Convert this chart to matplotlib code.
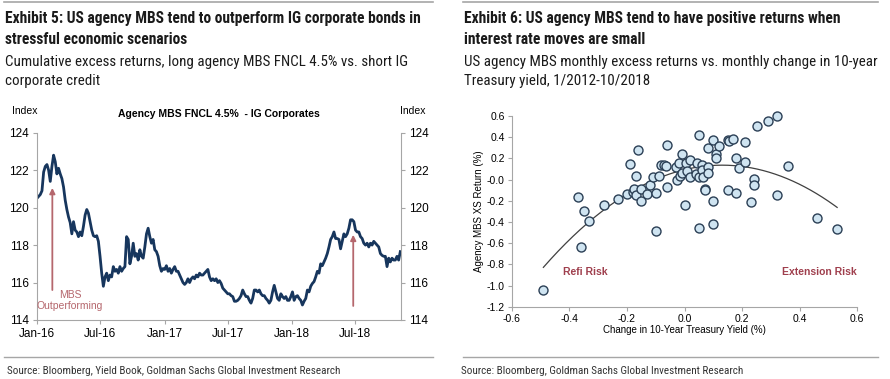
import numpy as np
import pandas as pd
import matplotlib
matplotlib.use('Agg')
import matplotlib.pyplot as plt
import matplotlib.dates as mdates
from matplotlib.lines import Line2D
from matplotlib import font_manager

# Exhibit 5: cumulative excess return index, long MBS FNCL 4.5% vs short IG (about every 5 days)
mbs_index = [
    120.5, 120.6, 120.7, 120.9, 121.9, 122.2, 122.3, 122.0, 121.4, 122.2,
    122.8, 122.45, 121.8, 122.1, 121.8, 121.55, 121.1, 120.4, 119.9, 119.5,
    119.2, 118.6, 119.25, 118.8, 118.7, 118.45, 118.7, 118.5, 119.0, 119.6,
    119.9, 119.7, 119.25, 118.8, 118.5, 118.45, 118.5, 118.2, 117.4, 116.5,
    115.8, 116.3, 116.5, 116.1, 116.4, 116.3, 116.85, 116.6, 116.7, 116.5,
    116.85, 116.6, 116.75, 116.85, 118.45, 118.3, 117.0, 117.4, 118.1, 117.4,
    117.55, 117.2, 117.75, 117.4, 117.3, 117.9, 118.6, 118.9, 118.45, 118.1,
    118.3, 117.75, 117.65, 117.4, 116.9, 116.6, 116.75, 116.7, 116.9, 116.6,
    116.75, 116.5, 116.7, 116.85, 116.6, 116.6, 116.4, 116.2, 116.0, 115.9,
    116.0, 116.2, 116.0, 116.2, 116.3, 116.2, 116.4, 116.3, 116.5, 116.4,
    116.4, 116.5, 116.6, 116.7, 116.3, 116.1, 116.2, 116.1, 116.2, 116.0,
    116.1, 115.95, 115.7, 115.6, 115.5, 115.4, 115.4, 115.3, 115.25, 115.0,
    115.0, 115.05, 115.15, 115.3, 115.6, 115.4, 115.25, 115.25, 115.05, 114.9,
    115.15, 115.6, 115.6, 115.5, 115.6, 115.4, 115.3, 115.3, 115.15, 115.05,
    114.9, 115.05, 115.5, 115.85, 115.5, 115.15, 115.05, 115.4, 115.25, 115.15,
    115.25, 115.05, 115.05, 115.25, 115.5, 115.05, 115.25, 115.3, 115.15, 115.05,
    114.8, 115.0, 115.15, 115.6, 115.5, 115.8, 115.95, 116.05, 116.3, 116.6,
    116.5, 117.0, 116.9, 117.1, 117.3, 117.55, 117.9, 118.3, 118.45, 118.7,
    118.35, 118.35, 118.3, 117.8, 118.2, 118.6, 118.45, 118.6, 118.9, 119.35,
    119.35, 119.25, 118.8, 118.7, 118.7, 118.45, 118.35, 118.1, 118.0, 118.1,
    117.9, 118.1, 118.0, 118.2, 118.1, 118.0, 117.9, 117.55, 117.45, 117.4,
    117.4, 116.85, 117.3, 117.1, 117.3, 117.2, 117.2, 117.4, 117.2, 117.65,
]
start_date = '2016-01-01'
end_date = '2018-11-08'
tick_dates = ['2016-01-01', '2016-07-01', '2017-01-01', '2017-07-01', '2018-01-01', '2018-07-01']
arrow_dates = ['2016-02-14', '2018-06-26']

# Exhibit 6: monthly change in 10y yield (%) vs MBS monthly excess return (%)
yield_change = [
    -0.49, -0.36, -0.37, -0.35, -0.33, -0.28, -0.23, -0.20, -0.19, -0.17,
    -0.16, -0.18, -0.175, -0.17, -0.15, -0.15, -0.13, -0.12, -0.11, -0.10,
    -0.10, -0.09, -0.08, -0.07, -0.065, -0.06, -0.06, -0.03, -0.025, -0.02,
    -0.01, -0.015, -0.01, 0.0, 0.005, 0.01, 0.02, 0.02, 0.04, 0.045,
    0.05, 0.05, 0.05, 0.06, 0.06, 0.065, 0.07, 0.07, 0.08, 0.08,
    0.08, 0.10, 0.10, 0.10, 0.11, 0.11, 0.12, 0.15, 0.15, 0.155,
    0.17, 0.18, 0.18, 0.19, 0.21, 0.21, 0.23, 0.24, 0.24, 0.25,
    0.29, 0.32, 0.32, 0.36, 0.46, 0.53,
]
mbs_xs_return = [
    -1.04, -0.64, -0.16, -0.30, -0.39, -0.24, -0.18, -0.14, 0.15, 0.03,
    0.28, -0.12, -0.09, -0.15, -0.09, -0.20, -0.14, -0.05, 0.02, -0.49,
    -0.13, 0.03, 0.14, 0.14, 0.13, 0.33, -0.07, 0.12, 0.0, 0.16,
    0.24, 0.03, 0.06, -0.24, 0.16, 0.08, 0.18, 0.02, 0.05, 0.16,
    0.42, -0.46, 0.02, 0.14, 0.09, 0.02, -0.09, -0.10, 0.30, 0.12,
    0.06, 0.37, -0.20, -0.42, 0.24, 0.20, 0.32, 0.37, -0.10, 0.36,
    0.38, 0.20, -0.13, 0.11, 0.35, 0.17, -0.21, 0.01, -0.05, 0.51,
    0.55, 0.60, -0.15, 0.13, -0.36, -0.47,
]

# pick a narrow font for the headers if one is installed
names = {f.name for f in font_manager.fontManager.ttflist}
head_font = 'DejaVu Sans'
for cand in ['Liberation Sans Narrow', 'Roboto Condensed', 'Open Sans Condensed']:
    if cand in names:
        head_font = cand
        break
body_font = 'Liberation Sans'

plt.rcParams['font.family'] = body_font

W, H = 890, 379
fig = plt.figure(figsize=(W / 100, H / 100), dpi=100)

def fx(x):
    return x / W

def fy(y):
    return 1 - y / H

navy = '#17365d'
rose = '#b5676d'
gray = '#a6a6a6'

# headers and footers
for x0, x1 in [(4, 433), (463, 878)]:
    fig.add_artist(Line2D([fx(x0), fx(x1)], [fy(2), fy(2)], color=gray, lw=1.2))
    fig.add_artist(Line2D([fx(x0), fx(x1)], [fy(357), fy(357)], color=gray, lw=1.0))

hdr = dict(family=head_font, color='#1a1a1a', va='center', ha='left')
fig.text(fx(5), fy(19), 'Exhibit 5: US agency MBS tend to outperform IG corporate bonds in', fontsize=11.2, weight='bold', **hdr)
fig.text(fx(5), fy(40), 'stressful economic scenarios', fontsize=11.2, weight='bold', **hdr)
fig.text(fx(5), fy(62), 'Cumulative excess returns, long agency MBS FNCL 4.5% vs. short IG', fontsize=10.8, **hdr)
fig.text(fx(5), fy(81), 'corporate credit', fontsize=10.8, **hdr)
fig.text(fx(464), fy(19), 'Exhibit 6: US agency MBS tend to have positive returns when', fontsize=11.2, weight='bold', **hdr)
fig.text(fx(464), fy(40), 'interest rate moves are small', fontsize=11.2, weight='bold', **hdr)
fig.text(fx(464), fy(62), 'US agency MBS monthly excess returns vs. monthly change in 10-year', fontsize=10.8, **hdr)
fig.text(fx(464), fy(81), 'Treasury yield, 1/2012-10/2018', fontsize=10.8, **hdr)
fig.text(fx(7), fy(371), 'Source: Bloomberg, Yield Book, Goldman Sachs Global Investment Research', fontsize=8, family=head_font, color='#333333', va='center')
fig.text(fx(461), fy(371), 'Source: Bloomberg, Goldman Sachs Global Investment Research', fontsize=8, family=head_font, color='#333333', va='center')

# ---- Exhibit 5 line chart ----
ax1 = fig.add_axes([fx(37), fy(320), fx(401) - fx(37), fy(132.7) - fy(320)])
dates = pd.date_range(start_date, end_date, periods=len(mbs_index))
ax1.plot(dates, mbs_index, color=navy, lw=2.0)
ax1.set_ylim(114, 124)
ax1.set_xlim(pd.Timestamp(start_date), pd.Timestamp('2018-11-10'))
ax1.set_yticks(np.arange(114, 125, 2))
ax1.set_xticks(pd.to_datetime(tick_dates))
ax1.xaxis.set_major_formatter(mdates.DateFormatter('%b-%y'))
ax1.tick_params(axis='y', which='both', left=True, right=True, labelleft=True, labelright=True,
                labelsize=8.5, length=3, color=gray, pad=3)
ax1.tick_params(axis='x', labelsize=8.5, length=3, color=gray, pad=3)
ax1.spines['top'].set_visible(False)
for s in ['left', 'right', 'bottom']:
    ax1.spines[s].set_color(gray)
ax1.set_title('Agency MBS FNCL 4.5%  - IG Corporates', fontsize=7.5, weight='bold', pad=11)
fig.text(fx(25), fy(110.5), 'Index', fontsize=7.5, ha='center', va='center')
fig.text(fx(413), fy(110.5), 'Index', fontsize=7.5, ha='center', va='center')

arrow_kw = dict(arrowstyle='-|>', color=rose, lw=1.3, mutation_scale=8, shrinkA=0, shrinkB=0)
ax1.annotate('', xy=(pd.Timestamp(arrow_dates[0]), 121.05), xytext=(pd.Timestamp(arrow_dates[0]), 115.6), arrowprops=arrow_kw)
ax1.annotate('', xy=(pd.Timestamp(arrow_dates[1]), 118.55), xytext=(pd.Timestamp(arrow_dates[1]), 114.75), arrowprops=arrow_kw)
ax1.text(pd.Timestamp('2016-04-05'), 115.05, 'MBS\nOutperforming', color=rose, fontsize=7.5,
         ha='center', va='center', linespacing=1.15)

# ---- Exhibit 6 scatter ----
ax2 = fig.add_axes([fx(511.7), fy(306.7), fx(857.3) - fx(511.7), fy(116) - fy(306.7)])
ax2.scatter(yield_change, mbs_xs_return, s=42, facecolor='#cfe4f1', edgecolor='#2b3f55', lw=1.0,
            zorder=3, clip_on=False)
coef = np.polyfit(yield_change, mbs_xs_return, 2)
xs = np.linspace(min(yield_change), max(yield_change), 200)
ax2.plot(xs, np.polyval(coef, xs), color='#404040', lw=0.9, zorder=2)
ax2.set_xlim(-0.6, 0.6)
ax2.set_ylim(-1.2, 0.6)
ax2.set_xticks(np.arange(-0.6, 0.61, 0.2))
ax2.set_yticks(np.arange(-1.2, 0.61, 0.2))
ax2.xaxis.set_major_formatter(matplotlib.ticker.FormatStrFormatter('%.1f'))
ax2.yaxis.set_major_formatter(matplotlib.ticker.FormatStrFormatter('%.1f'))
ax2.tick_params(labelsize=7.5, length=3, color=gray, pad=2)
ax2.spines['top'].set_visible(False)
ax2.spines['right'].set_visible(False)
ax2.spines['left'].set_color(gray)
ax2.spines['bottom'].set_color(gray)
ax2.set_xlabel('Change in 10-Year Treasury Yield (%)', fontsize=7, labelpad=1)
ax2.set_ylabel('Agency MBS XS Return (%)', fontsize=7, labelpad=2)
ax2.text(-0.345, -0.875, 'Refi Risk', color='#9f3f4d', fontsize=7.5, weight='bold', ha='center', va='center')
ax2.text(0.47, -0.875, 'Extension Risk', color='#9f3f4d', fontsize=7.5, weight='bold', ha='center', va='center')

fig.savefig('out.png', dpi=100)
